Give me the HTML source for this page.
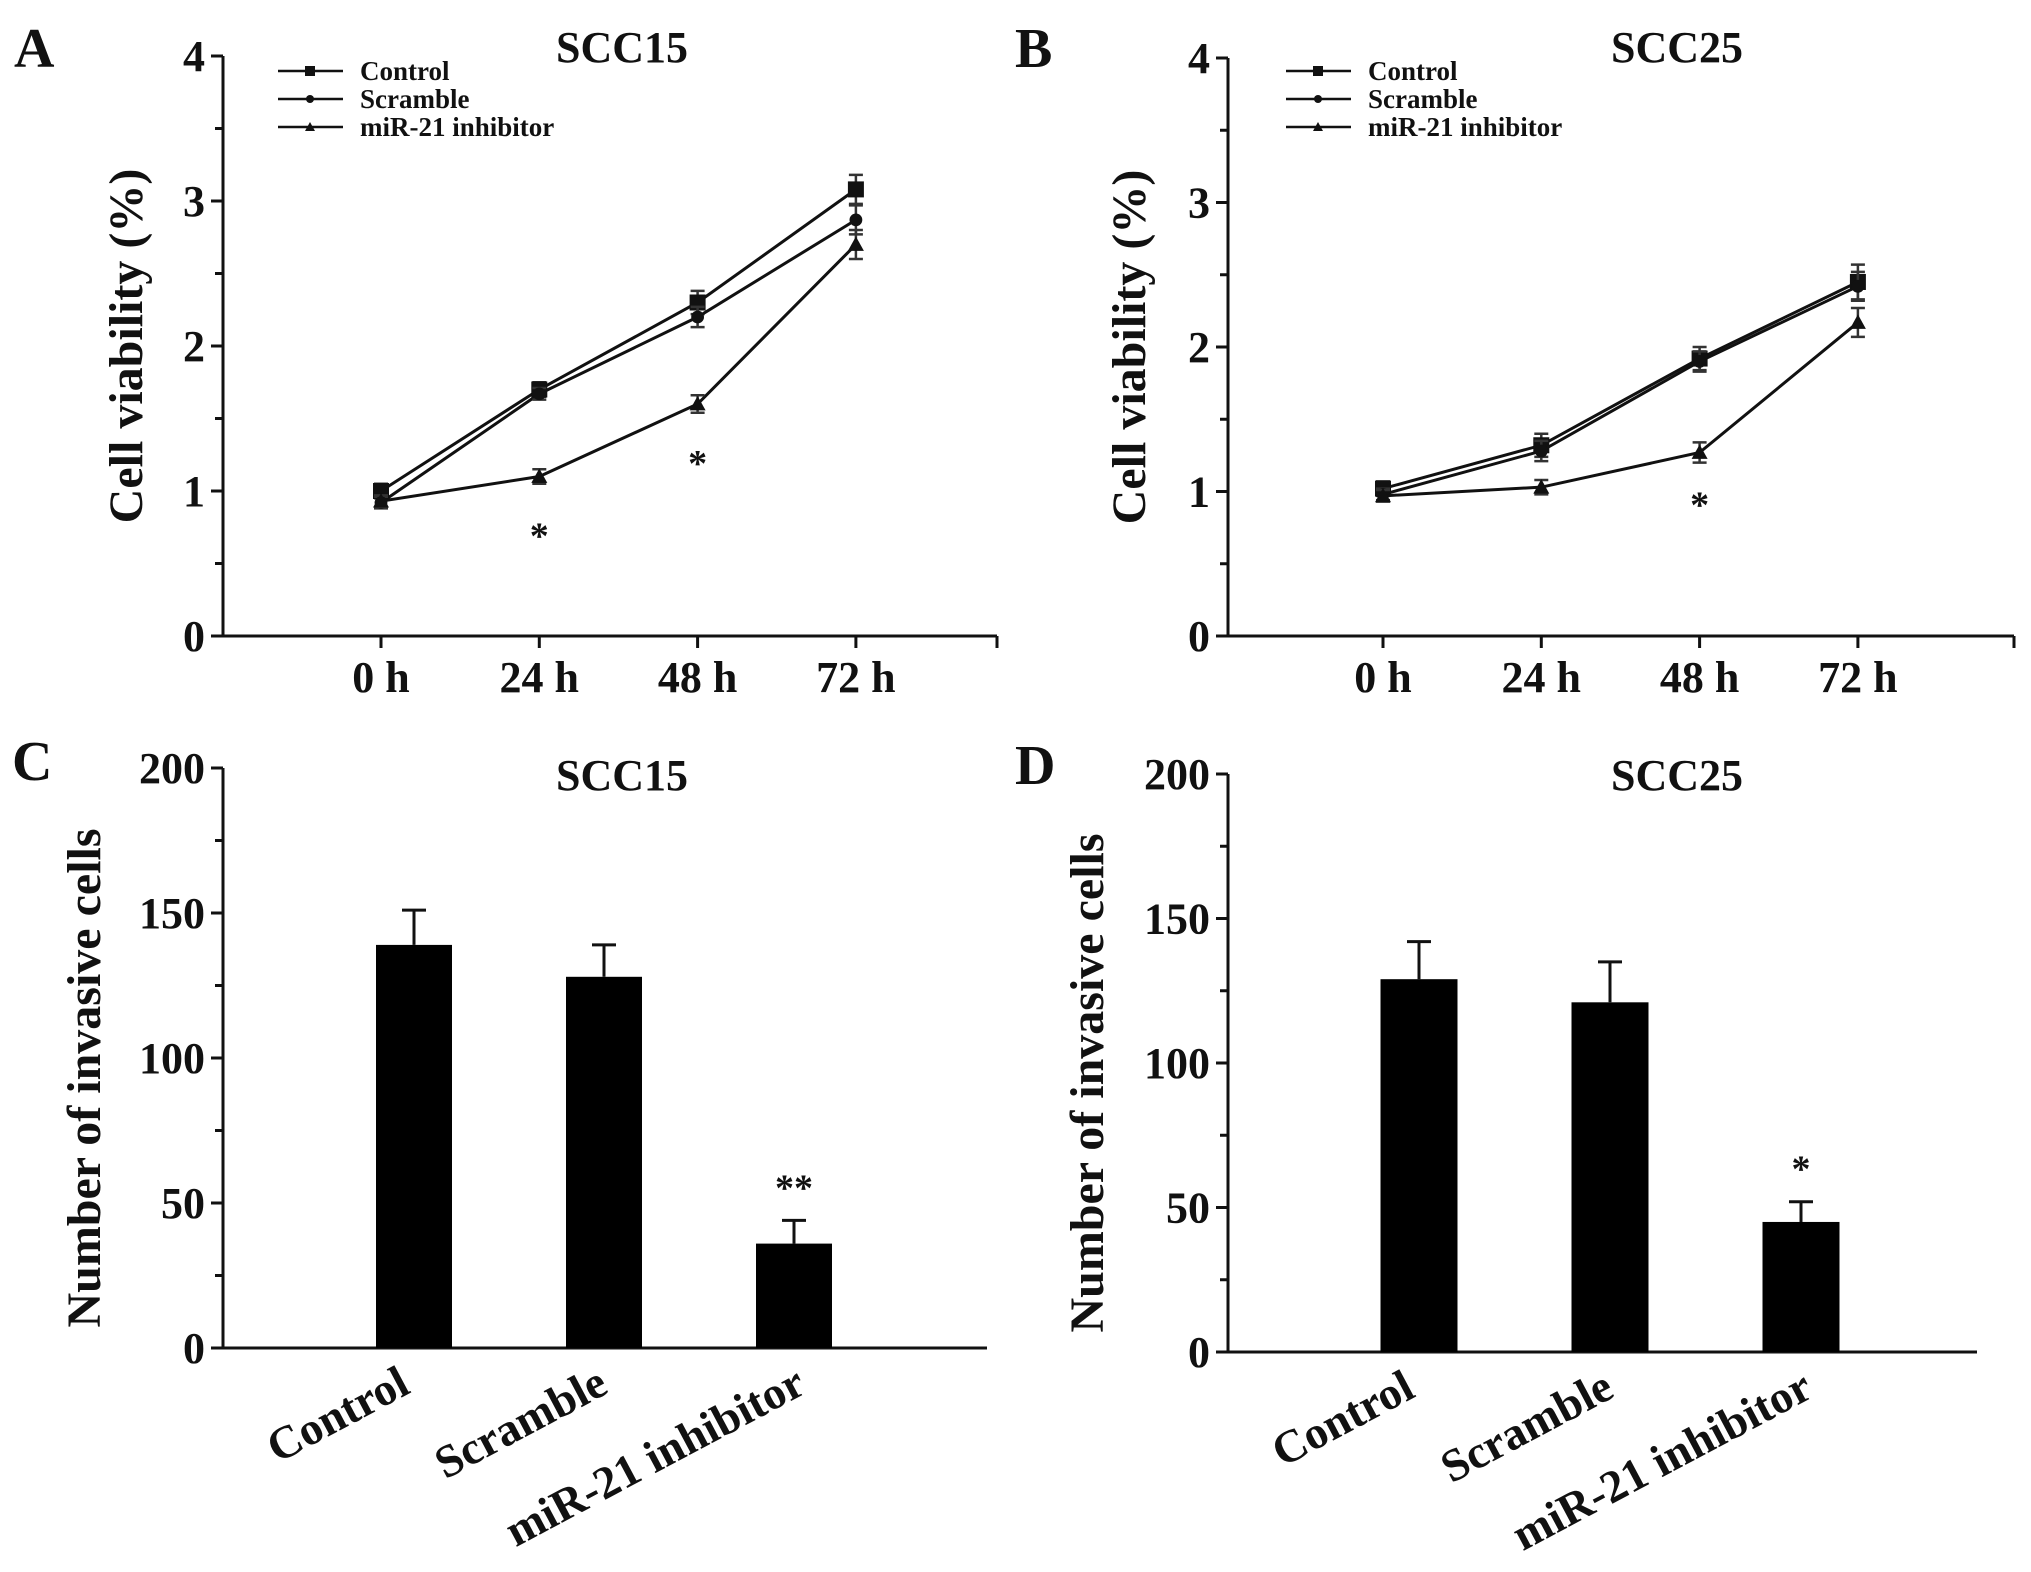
<!DOCTYPE html>
<html><head><meta charset="utf-8"><style>
html,body{margin:0;padding:0;background:#fff;}
svg text{font-family:"Liberation Serif",serif;font-weight:bold;fill:#111;}
</style></head><body>
<svg id="fig" width="2031" height="1567" xmlns="http://www.w3.org/2000/svg">
<text x="14" y="67" font-size="56">A</text>
<text x="1015" y="67" font-size="56">B</text>
<text x="12" y="780" font-size="56">C</text>
<text x="1015" y="784" font-size="56">D</text>
</svg>
<script>
const timeLabels=["0 h","24 h","48 h","72 h"];
const aControl=[1.0,1.7,2.3,3.08], aControlErr=[0.05,0.05,0.08,0.1];
const aScramble=[0.92,1.67,2.2,2.87], aScrambleErr=[0.04,0.04,0.07,0.1];
const aInhib=[0.93,1.1,1.6,2.7], aInhibErr=[0.04,0.05,0.06,0.1];
const aStars=["","*","*",""];
const bControl=[1.02,1.32,1.92,2.45], bControlErr=[0.05,0.08,0.08,0.12];
const bScramble=[0.98,1.28,1.9,2.42], bScrambleErr=[0.04,0.07,0.07,0.1];
const bInhib=[0.97,1.03,1.27,2.17], bInhibErr=[0.04,0.05,0.07,0.1];
const bStars=["","","*",""];
const lineTicks=[0,1,2,3,4];
const barCats=["Control","Scramble","miR-21 inhibitor"];
const cVals=[139,128,36], cErrTop=[151,139,44], cStars=["","","**"];
const dVals=[129,121,45], dErrTop=[142,135,52], dStars=["","","*"];
const barTicks=[0,50,100,150,200];
const NS="http://www.w3.org/2000/svg";
const svg=document.getElementById('fig');
function mk(tag,attrs,parent,text){const e=document.createElementNS(NS,tag);for(const k in attrs)e.setAttribute(k,attrs[k]);if(text!==undefined)e.textContent=text;(parent||svg).appendChild(e);return e;}

function linePanel(p){
  const g=mk('g',{});
  
  
  const y=v=>p.y0-(v/4)*(p.y0-p.y4);
  const x=i=>p.xs+i*p.dx;
  const ax=mk('path',{d:`M${p.ax} ${p.y4}V${p.y0}H${p.xEnd}`,stroke:'#111','stroke-width':3,fill:'none'},g);
  
  
  for(let v=0;v<=4;v+=0.5){const major=Number.isInteger(v);mk('line',{x1:p.ax-(major?12:8),x2:p.ax,y1:y(v),y2:y(v),stroke:'#111','stroke-width':3},g);}
  lineTicks.forEach(v=>{const t=mk('text',{x:p.ax-18,y:y(v)+15,'font-size':44,'text-anchor':'end'},g,String(v));
    
    });
  mk('line',{x1:p.xEnd,x2:p.xEnd,y1:p.y0,y2:p.y0+12,stroke:'#111','stroke-width':3},g);
  timeLabels.forEach((l,i)=>{mk('line',{x1:x(i),x2:x(i),y1:p.y0,y2:p.y0+12,stroke:'#111','stroke-width':3},g);
    const t=mk('text',{x:x(i),y:p.y0+56,'font-size':44,'text-anchor':'middle'},g,l);
    
    });
  const yt=mk('text',{x:0,y:0,'font-size':48,'text-anchor':'middle',transform:`translate(${p.ytx},${(p.y0+p.y4)/2}) rotate(-90)`},g,'Cell viability (%)');
  
  
  const tt=mk('text',{x:p.titleX,y:62,'font-size':44,'text-anchor':'middle'},g,p.title);
  
  
  const series=[[p.c,p.ce,'sq','Control'],[p.s,p.se,'ci','Scramble'],[p.m,p.me,'tr','miR-21 inhibitor']];
  series.forEach((s,si)=>{
    const sg=mk('g',{},g);
    
    
    mk('polyline',{points:s[0].map((v,i)=>x(i)+','+y(v)).join(' '),fill:'none',stroke:'#111','stroke-width':3},sg);
    s[0].forEach((v,i)=>{
      const e=s[1][i];
      mk('path',{d:`M${x(i)} ${y(v-e)}V${y(v+e)}M${x(i)-7} ${y(v-e)}h14M${x(i)-7} ${y(v+e)}h14`,stroke:'#333','stroke-width':2.5,fill:'none'},sg);
      marker(sg,s[2],x(i),y(v),8);
    });
    const ly=71+si*28;
    mk('line',{x1:p.lx,x2:p.lx+65,y1:ly,y2:ly,stroke:'#111','stroke-width':2.5},g);
    marker(g,s[2],p.lx+32,ly,5);
    const lt=mk('text',{x:p.lx+82,y:ly+9,'font-size':27},g,s[3]);
    
    
  });
  p.stars.forEach((s,i)=>{if(s){const v=Math.min(p.m[i],p.s[i]);const t=mk('text',{x:x(i),y:y(v)+(p.starOff||72),'font-size':38,'text-anchor':'middle'},g,s);
    
    }});
}
function marker(g,type,cx,cy,r){
  if(type==='sq')mk('rect',{x:cx-r,y:cy-r,width:2*r,height:2*r,fill:'#111'},g);
  else if(type==='ci')mk('circle',{cx:cx,cy:cy,r:r*0.8,fill:'#111'},g);
  else mk('polygon',{points:`${cx},${cy-r} ${cx-r},${cy+r*0.8} ${cx+r},${cy+r*0.8}`,fill:'#111'},g);
}
function barPanel(p){
  const g=mk('g',{});
  
  
  const y=v=>p.y0-(v/200)*(p.y0-p.y200);
  const ax=mk('path',{d:`M${p.ax} ${p.y200}V${p.y0}H${p.xEnd}`,stroke:'#111','stroke-width':3,fill:'none'},g);
  
  
  for(let v=0;v<=200;v+=25){const major=v%50===0;mk('line',{x1:p.ax-(major?12:8),x2:p.ax,y1:y(v),y2:y(v),stroke:'#111','stroke-width':3},g);}
  barTicks.forEach(v=>{const t=mk('text',{x:p.ax-18,y:y(v)+15,'font-size':44,'text-anchor':'end'},g,String(v));
    
    });
  const yt=mk('text',{x:0,y:0,'font-size':48,'text-anchor':'middle',transform:`translate(${p.ytx},${(p.y0+p.y200)/2+20}) rotate(-90)`},g,'Number of invasive cells');
  
  
  const tt=mk('text',{x:p.titleX,y:p.titleY,'font-size':44,'text-anchor':'middle'},g,p.title);
  
  
  barCats.forEach((c,i)=>{
    const cx=p.bx0+i*p.bdx;
    const b=mk('rect',{x:cx-p.bw/2,y:y(p.vals[i]),width:p.bw,height:y(0)-y(p.vals[i]),fill:'#000'},g);
    
    
    mk('path',{d:`M${cx} ${y(p.vals[i])}V${y(p.err[i])}M${cx-12} ${y(p.err[i])}h24`,stroke:'#111','stroke-width':3,fill:'none'},g);
    if(p.stars[i]){const s=mk('text',{x:cx,y:y(p.err[i])-20,'font-size':38,'text-anchor':'middle'},g,p.stars[i]);
      
      }
    const t=mk('text',{x:0,y:0,'font-size':46,'text-anchor':'end',transform:`translate(${cx-2+i*8},${p.y0+44}) rotate(-28)`},g,c);
    
    
  });
}
linePanel({name:'panel-a-scc15',title:'SCC15',titleX:622,ax:223,y0:636,y4:56,xs:381,dx:158.3,xEnd:997,ytx:142,lx:278,
  c:aControl,ce:aControlErr,s:aScramble,se:aScrambleErr,m:aInhib,me:aInhibErr,stars:aStars});
linePanel({name:'panel-b-scc25',title:'SCC25',titleX:1677,ax:1228,y0:636,y4:58,xs:1383,dx:158.3,xEnd:2014,ytx:1145,lx:1286,
  c:bControl,ce:bControlErr,s:bScramble,se:bScrambleErr,m:bInhib,me:bInhibErr,stars:bStars,starOff:65});
barPanel({name:'panel-c-scc15',title:'SCC15',titleX:622,titleY:790,ax:223,y0:1348,y200:768,xEnd:987,ytx:100,bx0:414,bdx:190,bw:76,
  vals:cVals,err:cErrTop,stars:cStars});
barPanel({name:'panel-d-scc25',title:'SCC25',titleX:1677,titleY:790,ax:1228,y0:1352,y200:774,xEnd:1977,ytx:1103,bx0:1419,bdx:191,bw:77,
  vals:dVals,err:dErrTop,stars:dStars});
</script>
</body></html>
